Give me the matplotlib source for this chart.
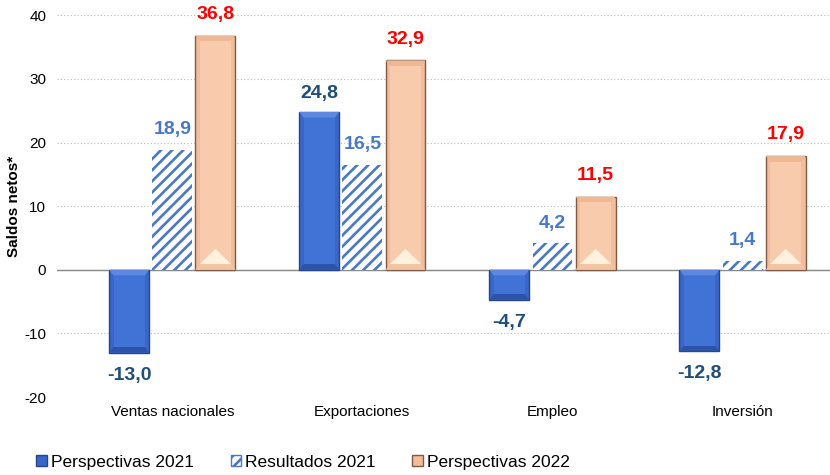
import numpy as np
import matplotlib.pyplot as plt
from matplotlib.patches import Patch, Polygon, Rectangle

plt.rcParams['font.family'] = ['Liberation Sans', 'DejaVu Sans']
plt.rcParams['axes.unicode_minus'] = False
plt.rcParams['hatch.linewidth'] = 1.9

categorias = ['Ventas nacionales', 'Exportaciones', 'Empleo', 'Inversión']
perspectivas_2021 = [-13.0, 24.8, -4.7, -12.8]
resultados_2021 = [18.9, 16.5, 4.2, 1.4]
perspectivas_2022 = [36.8, 32.9, 11.5, 17.9]
series_nombres = ['Perspectivas 2021', 'Resultados 2021', 'Perspectivas 2022']

fig = plt.figure(figsize=(8.3, 4.75), dpi=100)
ax = fig.add_axes([0.069, 0.164, 0.931, 0.804])

x = np.arange(len(categorias))
w = 0.21
off = 0.227

# barras
b1 = ax.bar(x - off, perspectivas_2021, w, color='#3A66C8', edgecolor='#24468F', linewidth=1.0, zorder=3)
b2 = ax.bar(x, resultados_2021, w, color='white', edgecolor='#4A78C8', hatch='///', linewidth=0, zorder=3)
b3 = ax.bar(x + off, perspectivas_2022, w, color='#F0BE9C', edgecolor='#7E5A45', linewidth=1.0, zorder=3)

# efecto bisel
mx = w * 0.11   # margen horizontal
my = 0.9        # margen vertical (unidades)

def bisel(r, cara, arriba, abajo, triangulo=None):
    bx, by, bw, bh = r.get_x(), r.get_y(), r.get_width(), r.get_height()
    y0, y1 = min(by, by + bh), max(by, by + bh)
    m = min(my, (y1 - y0) / 3)
    # franja superior y inferior
    ax.add_patch(Polygon([(bx, y1), (bx + bw, y1), (bx + bw - mx, y1 - m), (bx + mx, y1 - m)],
                         closed=True, color=arriba, lw=0, zorder=4))
    ax.add_patch(Polygon([(bx, y0), (bx + bw, y0), (bx + bw - mx, y0 + m), (bx + mx, y0 + m)],
                         closed=True, color=abajo, lw=0, zorder=4))
    ax.add_patch(Rectangle((bx + mx, y0 + m), bw - 2 * mx, y1 - y0 - 2 * m,
                           color=cara, lw=0, zorder=4))
    if triangulo is not None:
        th = min(2.4, (y1 - y0) / 3)
        ax.add_patch(Polygon([(bx + mx, y0 + m), (bx + bw - mx, y0 + m), (bx + bw / 2, y0 + m + th)],
                             closed=True, color=triangulo, lw=0, zorder=5))

for r in b1:
    bisel(r, '#4173D6', '#5C88DE', '#2C53A8')
for r in b3:
    bisel(r, '#F7CBAC', '#EDB894', '#F3C3A2', triangulo='#FFF1DE')

# etiquetas
def etiqueta(v):
    return f'{v:.1f}'.replace('.', ',')

fs = 14
for xi, v in zip(x - off, perspectivas_2021):
    ax.text(xi, v + (1.6 if v > 0 else -2.2), etiqueta(v), ha='center',
            va='bottom' if v > 0 else 'top', color='#1F4E79', fontsize=fs, fontweight='bold', zorder=6)
for xi, v in zip(x, resultados_2021):
    ax.text(xi, v + 1.8, etiqueta(v), ha='center', va='bottom',
            color='#4A78C8', fontsize=fs, fontweight='bold', zorder=6)
for xi, v in zip(x + off, perspectivas_2022):
    ax.text(xi, v + 2.0, etiqueta(v), ha='center', va='bottom',
            color='#FF0000', fontsize=fs, fontweight='bold', zorder=6)

ax.set_xlim(-0.605, 3.46)
ax.set_ylim(-20, 40)
ax.set_yticks(range(-20, 41, 10))
ax.set_xticks(x)
ax.set_xticklabels(categorias, fontsize=11)
ax.tick_params(axis='y', labelsize=11, length=0, pad=8)
ax.tick_params(axis='x', length=0, pad=6)
ax.set_ylabel('Saldos netos*', fontsize=11, fontweight='bold', labelpad=2)

ax.yaxis.grid(True, linestyle=(0, (1, 2)), color='#BBBBBB', linewidth=0.8, zorder=0)
ax.axhline(0, color='#888888', linewidth=1, zorder=2)
for s in ('top', 'right', 'bottom', 'left'):
    ax.spines[s].set_visible(False)

handles = [
    Patch(facecolor='#3A66C8', edgecolor='#24468F'),
    Patch(facecolor='white', edgecolor='#4A78C8', hatch='///'),
    Patch(facecolor='#F0BE9C', edgecolor='#7E5A45'),
]
fig.legend(handles, series_nombres, loc='lower left', bbox_to_anchor=(0.025, -0.022),
           ncol=3, frameon=False, fontsize=12.5, handlelength=0.6, handleheight=0.6,
           handletextpad=0.25, columnspacing=2.1)

fig.savefig('out.png', dpi=100)
